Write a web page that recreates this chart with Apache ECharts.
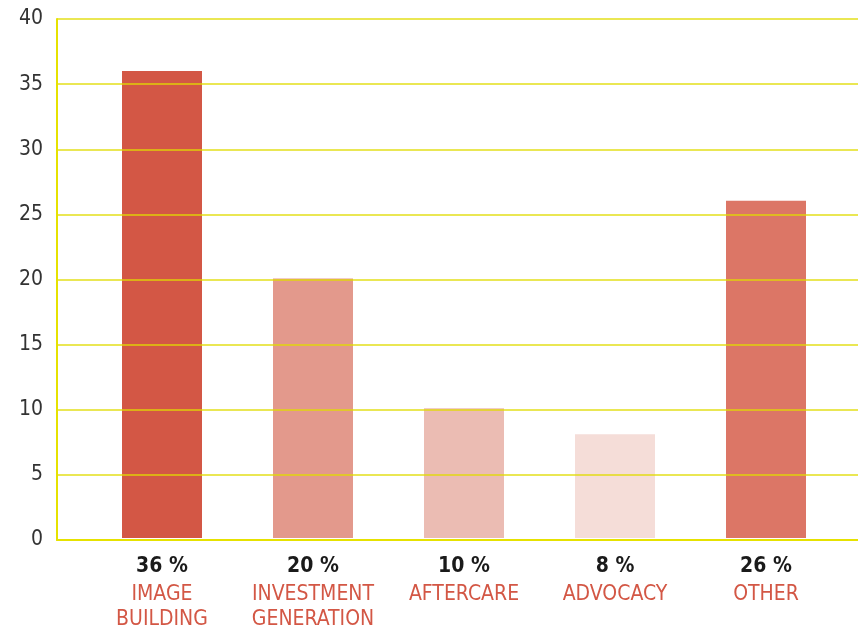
<!DOCTYPE html>
<html><head><meta charset="utf-8">
<script src="https://cdn.jsdelivr.net/npm/echarts@6/dist/echarts.min.js"></script>
<style>html,body{margin:0;padding:0;background:#fff}#c{width:858px;height:630px}</style>
</head><body><div id="c"></div>
<script>
const categories = ['IMAGE\nBUILDING', 'INVESTMENT\nGENERATION', 'AFTERCARE', 'ADVOCACY', 'OTHER'];
const values = [36, 20, 10, 8, 26];
const pctLabels = ['36 %', '20 %', '10 %', '8 %', '26 %'];
const barColors = ['#D35745', '#E3998C', '#EBBCB3', '#F5DDD8', '#DC7666'];
const yTicks = [0, 5, 10, 15, 20, 25, 30, 35, 40];

const FONT = '"Liberation Sans Narrow","DejaVu Sans Condensed","Roboto",sans-serif';
const chart = echarts.init(document.getElementById('c'));
chart.setOption({
  animation: false,
  grid: [
    {left: 57, right: 0, top: 19, bottom: 90, containLabel: false},
    {left: 86.5, right: 16.5, top: 19, bottom: 90, containLabel: false}
  ],
  xAxis: [
    {gridIndex: 0, type: 'value', min: 0, max: 1, show: true, z: 10,
     axisLine: {show: true, onZero: false, lineStyle: {color: '#E6E200', width: 2}},
     axisTick: {show: false}, axisLabel: {show: false}, splitLine: {show: false}},
    {gridIndex: 1, type: 'category', data: categories,
     axisLine: {show: false}, axisTick: {show: false},
     axisLabel: {
       interval: 0, margin: 14,
       formatter: function (v, i) { return '{p|' + pctLabels[i] + '}\n{c|' + v.split('\n').join('}\n{c|') + '}'; },
       rich: {
         p: {fontFamily: FONT, fontSize: 21, fontWeight: 'bold', color: '#1a1a1a', lineHeight: 30},
         c: {fontFamily: FONT, fontSize: 21, color: '#D35745', lineHeight: 25}
       }
     }}
  ],
  yAxis: [
    {gridIndex: 0, type: 'value', min: 0, max: 40, interval: 5, z: 10,
     axisLine: {show: true, lineStyle: {color: '#E6E200', width: 2}},
     axisTick: {show: false},
     axisLabel: {fontFamily: FONT, fontSize: 21, color: '#333', margin: 14,
       formatter: function (v) { return yTicks.indexOf(v) >= 0 ? String(v) : ''; }},
     splitLine: {show: true, lineStyle: {color: 'rgba(224,220,0,0.9)', width: 1.5}}},
    {gridIndex: 1, type: 'value', min: 0, max: 40, interval: 5, show: false, splitLine: {show: false}}
  ],
  series: [{
    type: 'bar', xAxisIndex: 1, yAxisIndex: 1, barWidth: 80,
    data: values.map((v, i) => ({value: v, itemStyle: {color: barColors[i]}}))
  }]
});
</script></body></html>
